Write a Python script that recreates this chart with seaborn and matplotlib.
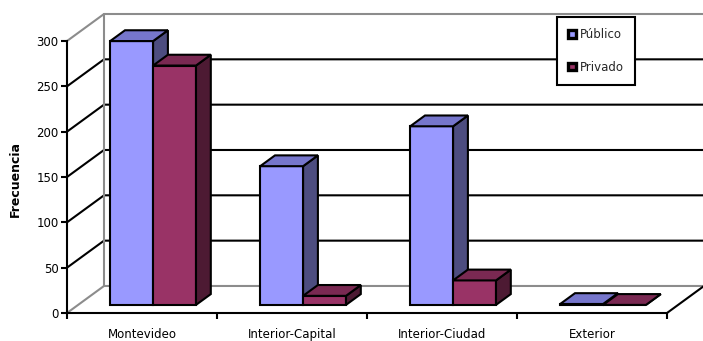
import matplotlib
matplotlib.use("Agg")
import matplotlib.pyplot as plt
import matplotlib.transforms as mtransforms
from matplotlib.patches import Polygon, Patch
import pandas as pd
import seaborn as sns

# ---- data ----
regiones = ["Montevideo", "Interior-Capital", "Interior-Ciudad", "Exterior"]
sectores = ["Público", "Privado"]
publico = [291, 153, 197, 1]
privado = [264, 10, 27, 0]
yticks = [0, 50, 100, 150, 200, 250, 300]

df = pd.DataFrame({
    "Región": regiones * 2,
    "Frecuencia": publico + privado,
    "Sector": [sectores[0]] * len(regiones) + [sectores[1]] * len(regiones),
})

# ---- style ----
sns.set_theme(style="white")
plt.rcParams["font.family"] = ["DejaVu Sans"]

front_col = {"Público": "#9999FF", "Privado": "#993366"}
top_col = {"Público": "#7676CC", "Privado": "#7A2952"}
side_col = {"Público": "#4D4D80", "Privado": "#4D1A33"}
grey = "#8C8C8C"
LW = 1.5
FS = 8.5

# floor depth expressed in data units (categories, frequency)
DX, DY = 0.2467, 29.8
F0, F1 = 0.3, 0.7  # bars sit between these fractions of the depth

fig = plt.figure(figsize=(7.03, 3.41), dpi=100, facecolor="white")
ax = fig.add_axes([67 / 703, 28 / 341, 637 / 703, 299 / 341])
ax.set_facecolor("none")

sns.barplot(
    data=df, x="Región", y="Frecuencia", hue="Sector", hue_order=sectores,
    palette=front_col, saturation=1, width=0.572, edgecolor="black",
    linewidth=LW, legend=False, ax=ax, zorder=3,
)

ax.set_xlim(-0.5, len(regiones) - 0.5 + DX)
ax.set_ylim(0, yticks[-1] + DY)

# ---- walls and gridlines ----
x0 = -0.5
x1 = len(regiones) - 0.5
for v in yticks:
    c = grey if v in (yticks[0], yticks[-1]) else "black"
    ax.plot([x0, x0 + DX, x1 + DX], [v, v + DY, v + DY], color=c, lw=LW,
            solid_capstyle="butt", clip_on=False, zorder=1)
ax.plot([x0 + DX, x0 + DX], [DY, yticks[-1] + DY], color=grey, lw=LW,
        clip_on=False, zorder=1)
ax.plot([x1, x1 + DX], [0, DY], color="black", lw=LW, clip_on=False, zorder=1)

# ---- 3D bar faces ----
shift = mtransforms.Affine2D().translate(F0 * DX, F0 * DY) + ax.transData
bars = list(ax.patches)
n = len(regiones)
for i, bar in enumerate(bars):
    sector = sectores[i // n]
    z = 3 + (i // n)
    bar.set_transform(shift)
    bar.set_zorder(z)
    bx, bw, bh = bar.get_x(), bar.get_width(), bar.get_height()
    a0 = (F0 * DX, F0 * DY)
    a1 = (F1 * DX, F1 * DY)
    side = Polygon(
        [(bx + bw + a0[0], a0[1]), (bx + bw + a0[0], bh + a0[1]),
         (bx + bw + a1[0], bh + a1[1]), (bx + bw + a1[0], a1[1])],
        closed=True, facecolor=side_col[sector], edgecolor="black",
        linewidth=LW, joinstyle="miter", zorder=z + 0.1)
    top = Polygon(
        [(bx + a0[0], bh + a0[1]), (bx + bw + a0[0], bh + a0[1]),
         (bx + bw + a1[0], bh + a1[1]), (bx + a1[0], bh + a1[1])],
        closed=True, facecolor=top_col[sector], edgecolor="black",
        linewidth=LW, joinstyle="miter", zorder=z + 0.2)
    ax.add_patch(side)
    ax.add_patch(top)

# ---- axes ----
for s in ("top", "right"):
    ax.spines[s].set_visible(False)
ax.spines["left"].set_bounds(yticks[0], yticks[-1])
ax.spines["bottom"].set_bounds(x0, x1)
for s in ("left", "bottom"):
    ax.spines[s].set_color("black")
    ax.spines[s].set_linewidth(LW)
    ax.spines[s].set_zorder(2)

ax.set_yticks(yticks, labels=[str(v) for v in yticks])
ax.set_xticks([x0 + k for k in range(n + 1)], labels=[""] * (n + 1))
ax.set_xticks(range(n), labels=regiones, minor=True)
ax.tick_params(axis="y", which="major", left=True, direction="out",
               length=4, width=LW, color="black", labelsize=FS, pad=2,
               labelcolor="black")
ax.tick_params(axis="x", which="major", bottom=True, direction="out",
               length=4, width=LW, color="black")
ax.tick_params(axis="x", which="minor", bottom=True, length=0,
               labelsize=FS, pad=11, labelcolor="black")

ax.set_xlabel("")
ax.set_ylabel("Frecuencia", fontsize=9, fontweight="bold", color="black")
ax.yaxis.set_label_coords(-0.071, 0.448)

# ---- legend ----
handles = [Patch(facecolor=front_col[s], edgecolor="black", linewidth=2.4)
           for s in sectores]
leg = ax.legend(
    handles, sectores, loc="upper left",
    bbox_to_anchor=(557 / 703, 1 - 17 / 341), bbox_transform=fig.transFigure,
    borderaxespad=0, fontsize=FS, frameon=True, fancybox=False,
    framealpha=1, edgecolor="black", borderpad=0.95, labelspacing=1.65,
    handlelength=0.65, handleheight=0.65, handletextpad=0.35,
)
leg.get_frame().set_linewidth(LW)
leg.set_zorder(10)

fig.savefig("out.png", dpi=100, facecolor="white")
